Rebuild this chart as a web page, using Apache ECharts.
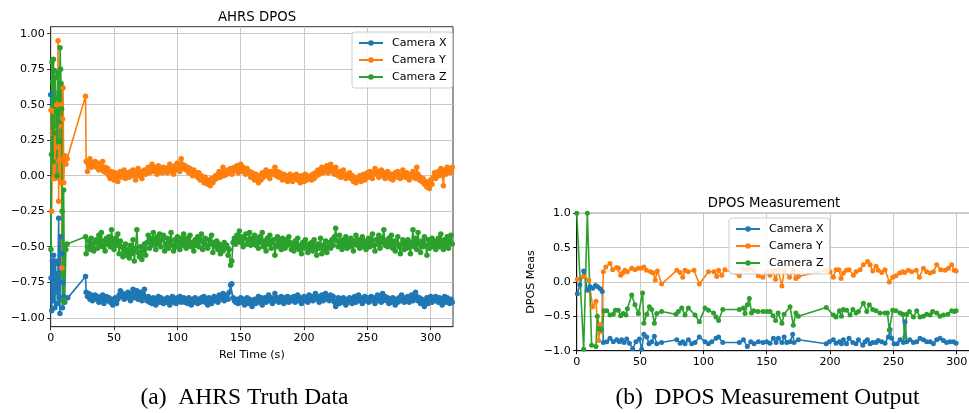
<!DOCTYPE html>
<html>
<head>
<meta charset="utf-8">
<title>AHRS DPOS</title>
<script src="https://cdn.jsdelivr.net/npm/echarts@6.0.0/dist/echarts.min.js"></script>
<style>
  html, body { margin: 0; padding: 0; background: #fff; }
  #chart { width: 969px; height: 413px; }
</style>
</head>
<body>
<div id="chart"></div>
<script>
// legend / colours
var seriesNames = ['Camera X', 'Camera Y', 'Camera Z'];
var seriesColors = ['#1f77b4', '#ff7f0e', '#2ca02c'];

// (a) AHRS truth data, start-up part: [time s, value]
var ahrsEarlyX = [[0, 0.57], [0.3, -0.72], [0.8, -0.95], [1.3, -0.6], [1.8, -0.88], [2.3, -0.56], [2.8, -0.78],
    [3.3, -0.93], [3.8, -0.6], [4.3, -0.82], [4.8, -0.69], [5.3, -0.9], [5.8, -0.62], [6.3, -0.3], [6.8, -0.86],
    [7.3, -0.97], [7.8, -0.43], [8.3, -0.65], [8.8, -0.55], [9.3, -0.93], [9.8, -0.75], [10.3, -0.85],
    [11, -0.89], [13.5, -0.86], [27.5, -0.71]];
var ahrsEarlyY = [[0.3, 0.46], [0.8, -0.25], [1.3, 0.3], [1.8, 0.1], [2.3, -0.02], [2.8, 0.45], [3.3, 0.1],
    [3.8, -0.02], [4.3, 0.35], [4.8, 0.5], [5.3, 0.2], [5.8, 0.95], [6.3, -0.18], [6.8, 0.35], [7.3, 0.12],
    [7.8, -0.05], [8.3, 0.5], [8.8, -0.65], [9.3, 0.4], [9.8, 0.62], [10.3, -0.05], [10.8, 0.1], [11.3, 0.14],
    [12, 0.08], [13, 0.12], [27.5, 0.56]];
var ahrsEarlyZ = [[0.2, -0.52], [0.6, 0.15], [1, 0.8], [1.4, 0.66], [1.8, 0.1], [2.2, 0.82], [2.6, 0.3], [3, 0.74],
    [3.4, 0.55], [3.8, 0.69], [4.2, 0.35], [4.6, 0.45], [5, 0.0], [5.4, 0.55], [5.8, 0.72], [6.2, 0.38],
    [6.6, 0.59], [7, 0.24], [7.4, 0.9], [7.8, 0.75], [8.2, 0.65], [8.6, 0.47], [9, -0.25], [9.4, -0.7],
    [9.8, -0.88], [10.2, -0.1], [10.6, -0.5], [11, -0.88], [12, -0.52], [13, -0.48], [27.5, -0.43]];

// steady part: one sample per second, first sample at ahrsStart
var ahrsStart = 28;
var ahrsX = [
    -0.82, -0.85, -0.83, -0.87, -0.84, -0.88, -0.86, -0.84,
    -0.87, -0.85, -0.89, -0.86, -0.88, -0.84, -0.90, -0.87, -0.85, -0.88,
    -0.86, -0.89, -0.87, -0.91, -0.88, -0.86, -0.90, -0.87, -0.84, -0.81, -0.85, -0.83, -0.87, -0.84, -0.86,
    -0.82, -0.85, -0.88, -0.83, -0.80, -0.86, -0.84, -0.81, -0.87, -0.85, -0.82, -0.88, -0.84, -0.80, -0.86,
    -0.88, -0.85, -0.89, -0.87, -0.90, -0.86, -0.88, -0.91, -0.87, -0.85, -0.89, -0.86, -0.88, -0.90, -0.87,
    -0.89, -0.86, -0.88, -0.91, -0.87, -0.85, -0.89, -0.87, -0.90, -0.86, -0.88, -0.85, -0.89, -0.87, -0.86,
    -0.89, -0.87, -0.90, -0.86, -0.88, -0.91, -0.87, -0.89, -0.86, -0.88,
    -0.90, -0.87, -0.89, -0.86, -0.88, -0.85, -0.89, -0.87, -0.91, -0.86, -0.88, -0.90, -0.87, -0.85, -0.88,
    -0.86, -0.89, -0.84, -0.87, -0.85, -0.83, -0.88, -0.86, -0.84, -0.87, -0.82, -0.77, -0.76, -0.86, -0.88,
    -0.89, -0.87, -0.90, -0.88, -0.86, -0.89, -0.87, -0.91, -0.88, -0.86, -0.90, -0.87, -0.89, -0.92, -0.88,
    -0.87, -0.90, -0.88, -0.85, -0.89, -0.86, -0.91, -0.88, -0.86, -0.89, -0.87, -0.84, -0.88, -0.86, -0.90,
    -0.87, -0.83, -0.88, -0.86, -0.89, -0.87, -0.85, -0.88, -0.90, -0.86, -0.88, -0.85, -0.89, -0.87, -0.86,
    -0.88, -0.85, -0.89, -0.87, -0.84, -0.88, -0.86, -0.90, -0.87, -0.85, -0.88, -0.86, -0.89, -0.84, -0.87,
    -0.85, -0.88, -0.86, -0.83, -0.87, -0.85, -0.89, -0.86, -0.84, -0.88, -0.86, -0.83, -0.87, -0.85, -0.88,
    -0.84, -0.87, -0.85, -0.89, -0.92, -0.88, -0.86, -0.90, -0.87, -0.89, -0.86, -0.88, -0.91, -0.87, -0.89,
    -0.86, -0.88, -0.90, -0.87, -0.85, -0.89, -0.87, -0.84, -0.88, -0.86, -0.90, -0.87, -0.85, -0.88, -0.86,
    -0.89, -0.87, -0.85, -0.88, -0.86, -0.90, -0.87, -0.84, -0.88, -0.86, -0.89, -0.83, -0.87, -0.85, -0.88,
    -0.86, -0.90, -0.87, -0.89, -0.86, -0.88, -0.91, -0.87, -0.89, -0.86, -0.88, -0.84, -0.87, -0.89, -0.86,
    -0.88, -0.85, -0.89, -0.87, -0.84, -0.88, -0.86, -0.82, -0.85, -0.88, -0.86, -0.90, -0.87, -0.89, -0.92,
    -0.88, -0.86, -0.90, -0.87, -0.85, -0.89, -0.86, -0.88, -0.85, -0.87,
    -0.89, -0.86, -0.88, -0.91, -0.87, -0.85, -0.89, -0.86, -0.88, -0.90, -0.87, -0.89
];
var ahrsY = [
    0.10, 0.03, 0.08, 0.12, 0.06, 0.09, 0.07, 0.10,
    0.06, 0.09, 0.04, 0.07, 0.05, 0.10, 0.03, 0.06, 0.02, 0.05,
    0.00, -0.02, 0.03, 0.01, -0.03, 0.02, 0.00, -0.04, 0.01, 0.03, -0.01, 0.00, 0.04, -0.02, 0.01,
    0.02, -0.01, 0.03, 0.00, 0.04, 0.01, -0.03, 0.02, 0.05, 0.00, 0.03, -0.02, 0.02, 0.04, 0.01,
    0.03, 0.06, 0.02, 0.05, 0.08, 0.03, 0.06, 0.04, 0.01, 0.07, 0.03, 0.05, 0.02, 0.06, 0.04,
    0.05, 0.02, 0.06, 0.08, 0.03, 0.05, 0.01, 0.07, 0.04, 0.09, 0.06, 0.03, 0.12, 0.08, 0.05,
    0.07, 0.04, 0.06, 0.02, 0.05, 0.03, 0.00, 0.04, 0.01, 0.02,
    -0.01, 0.02, -0.03, 0.00, -0.02, -0.05, -0.01, -0.04, -0.06, -0.03, -0.07, -0.02, -0.05, -0.03, 0.00,
    -0.02, 0.01, 0.03, -0.01, 0.02, 0.06, 0.00, 0.03, 0.01, 0.04, 0.02, 0.05, 0.01, 0.03, 0.06,
    0.04, 0.07, 0.02, 0.05, 0.08, 0.03, 0.06, 0.04, 0.01, 0.05, 0.02, 0.03, -0.01, 0.02, 0.00,
    -0.03, 0.01, -0.02, -0.05, 0.00, -0.03, 0.02, -0.01, 0.01, 0.04, 0.00, 0.02, -0.02, 0.03, 0.01,
    0.02, 0.06, 0.00, 0.03, -0.01, 0.02, 0.00, -0.03, 0.01, -0.02, 0.00, -0.04, -0.01, 0.01, -0.02,
    -0.04, 0.00, -0.02, 0.01, -0.03, -0.01, -0.05, 0.00, -0.02, -0.04, 0.01, -0.03, -0.01, -0.02, 0.00,
    -0.03, 0.01, -0.02, 0.02, 0.00, 0.04, 0.01, 0.03, 0.06, 0.02, 0.05, 0.03, 0.07, 0.02, 0.04,
    0.08, 0.03, 0.05, 0.01, 0.06, 0.02, 0.00, 0.03, -0.01, 0.02, 0.04, 0.00, -0.02, 0.01, -0.01,
    0.02, -0.02, 0.00, -0.04, -0.01, -0.05, -0.02, -0.03, 0.00, -0.04, -0.02, 0.01, -0.03, -0.01, 0.02,
    -0.01, 0.03, 0.00, -0.02, 0.02, 0.05, 0.01, 0.03, -0.01, 0.02, 0.04, 0.00, 0.02, -0.02, 0.01,
    0.03, 0.00, -0.02, 0.01, -0.03, 0.00, 0.02, -0.01, 0.03, 0.01, -0.02, 0.00, 0.04, 0.01, -0.01,
    0.02, 0.00, -0.03, 0.01, -0.01, 0.03, 0.00, -0.02, 0.06, 0.01, -0.03, -0.01, -0.04, -0.02, -0.06,
    -0.04, -0.08, -0.05, -0.09, -0.03, -0.06, -0.01, 0.02, -0.02, 0.01,
    0.03, 0.00, 0.05, 0.02, -0.07, 0.04, 0.01, 0.06, 0.03, 0.05, 0.02, 0.06
];
var ahrsZ = [
    -0.55, -0.50, -0.46, -0.52, -0.44, -0.49, -0.53, -0.47,
    -0.45, -0.51, -0.42, -0.48, -0.40, -0.50, -0.46, -0.53, -0.44, -0.48,
    -0.43, -0.50, -0.38, -0.47, -0.52, -0.44, -0.49, -0.41, -0.55, -0.46, -0.50, -0.57, -0.53, -0.48, -0.56,
    -0.52, -0.58, -0.49, -0.55, -0.45, -0.60, -0.51, -0.38, -0.54, -0.57, -0.50, -0.59, -0.53, -0.48, -0.56,
    -0.47, -0.42, -0.51, -0.44, -0.49, -0.40, -0.46, -0.52, -0.43, -0.48, -0.41, -0.50, -0.45, -0.42, -0.53,
    -0.48, -0.44, -0.51, -0.46, -0.40, -0.49, -0.53, -0.45, -0.50, -0.43, -0.47, -0.52, -0.44, -0.49, -0.41,
    -0.46, -0.51, -0.44, -0.48, -0.42, -0.50, -0.47, -0.53, -0.45, -0.49,
    -0.43, -0.50, -0.46, -0.41, -0.52, -0.47, -0.44, -0.49, -0.51, -0.45, -0.48, -0.42, -0.54, -0.47, -0.50,
    -0.46, -0.52, -0.48, -0.55, -0.50, -0.53, -0.47, -0.51, -0.49, -0.56, -0.52, -0.63, -0.60, -0.47, -0.44,
    -0.48, -0.42, -0.46, -0.39, -0.47, -0.43, -0.50, -0.44, -0.41, -0.48, -0.45, -0.40, -0.49, -0.44, -0.47,
    -0.42, -0.49, -0.45, -0.51, -0.43, -0.47, -0.40, -0.50, -0.46, -0.53, -0.44, -0.48, -0.42, -0.51, -0.47,
    -0.45, -0.56, -0.49, -0.43, -0.50, -0.46, -0.52, -0.44, -0.48, -0.51, -0.45, -0.49, -0.43, -0.47, -0.52,
    -0.48, -0.53, -0.46, -0.50, -0.44, -0.52, -0.49, -0.55, -0.47, -0.51, -0.45, -0.50, -0.54, -0.48, -0.52,
    -0.47, -0.53, -0.45, -0.50, -0.56, -0.48, -0.51, -0.44, -0.55, -0.49, -0.52, -0.46, -0.54, -0.50, -0.47,
    -0.51, -0.45, -0.49, -0.43, -0.37, -0.46, -0.50, -0.42, -0.48, -0.52, -0.45, -0.49, -0.43, -0.51, -0.46,
    -0.50, -0.44, -0.48, -0.53, -0.46, -0.42, -0.49, -0.45, -0.51, -0.47, -0.43, -0.50, -0.46, -0.52, -0.48,
    -0.44, -0.50, -0.46, -0.41, -0.49, -0.53, -0.45, -0.48, -0.42, -0.51, -0.47, -0.44, -0.38, -0.49, -0.46,
    -0.50, -0.44, -0.48, -0.42, -0.51, -0.46, -0.53, -0.47, -0.43, -0.50, -0.55, -0.48, -0.45, -0.52, -0.47,
    -0.51, -0.45, -0.49, -0.55, -0.47, -0.38, -0.50, -0.44, -0.52, -0.40, -0.48, -0.54, -0.46, -0.50, -0.43,
    -0.49, -0.56, -0.45, -0.51, -0.47, -0.44, -0.50, -0.46, -0.52, -0.48,
    -0.44, -0.50, -0.41, -0.47, -0.52, -0.45, -0.49, -0.43, -0.51, -0.46, -0.42, -0.48
];

// (b) DPOS measurement: [time s, value]
var measX = [[0.5, -0.17], [2.5, -0.04], [5.5, 0.16], [8.4, -0.12], [10.5, -0.07], [12.6, -0.09], [14.8, -0.05],
    [16.5, -0.07], [18.6, -0.10], [20.2, -0.14], [21, -0.88], [23.7, -0.87], [26.3, -0.82], [28.9, -0.87],
    [31.6, -0.84], [33.7, -0.87], [35.5, -0.84], [37.4, -0.88], [39.5, -0.83], [41.6, -0.89], [44.2, -0.97],
    [46.8, -0.87], [49.5, -0.83], [51.3, -0.98], [53, -0.76], [55.3, -0.80], [57.1, -0.90], [59.2, -0.87],
    [61.3, -0.79], [63.2, -0.90], [67, -0.88], [79, -0.84], [81.6, -0.89], [83.7, -0.87], [85.5, -0.90],
    [88.2, -0.84], [90.8, -0.90], [93.4, -0.88], [96.8, -0.80], [101.3, -0.87], [104, -0.90], [106.6, -0.87],
    [110, -0.82], [112, -0.80], [115.3, -0.88], [128.4, -0.88], [131.6, -0.84], [134.7, -0.94], [137.4, -0.87],
    [140, -0.90], [143.4, -0.87], [147, -0.88], [150, -0.87], [152.6, -0.89], [155.3, -0.82], [157.4, -0.88],
    [159.2, -0.82], [162, -0.88], [163.7, -0.80], [165.8, -0.88], [168.4, -0.87], [170.5, -0.76], [171.6, -0.88],
    [175, -0.84], [197, -0.90], [199.5, -0.87], [202.6, -0.84], [204.7, -0.89], [207.4, -0.87], [209, -0.90],
    [210.5, -0.84], [213, -0.90], [215, -0.82], [217.9, -0.88], [220.5, -0.90], [222.4, -0.84], [225.8, -0.92],
    [227.6, -0.87], [229.5, -0.84], [231.6, -0.90], [233.7, -0.88], [236.3, -0.88], [238, -0.85], [240.8, -0.87],
    [243.4, -0.89], [246, -0.80], [247.4, -0.69], [248.7, -0.82], [250.5, -0.90], [253, -0.90], [255.3, -0.84],
    [257.9, -0.88], [259.2, -0.58], [260.5, -0.87], [263, -0.84], [265.8, -0.88], [268.4, -0.87], [271, -0.82],
    [273.7, -0.84], [276.3, -0.87], [279, -0.87], [281.6, -0.90], [284.2, -0.84], [286.8, -0.82], [289.5, -0.85],
    [292, -0.88], [294.7, -0.87], [297.4, -0.87], [299.5, -0.89]];
var measY = [[0.5, 0.04], [5.5, 0.08], [9.5, 0.03], [12.6, -0.36], [15.2, -0.28], [17.3, -0.85], [18.6, -0.62],
    [19.7, -0.72], [21, 0.15], [23, 0.22], [26.3, 0.27], [28.4, 0.18], [31.6, 0.21], [33, 0.20], [34.7, 0.10],
    [36.3, 0.13], [38, 0.17], [40, 0.15], [43.4, 0.20], [46, 0.18], [48.7, 0.20], [51, 0.20], [53, 0.22],
    [55, 0.17], [58.4, 0.15], [60.5, 0.13], [62, 0.03], [63.7, 0.16], [67, -0.03], [79, 0.17], [81.6, 0.14],
    [83.7, 0.07], [85.5, 0.17], [88, 0.15], [92.6, 0.17], [96.8, -0.03], [104, 0.15], [108.4, 0.15], [110.5, 0.08],
    [112, 0.17], [114.5, 0.10], [117, 0.18], [128.4, 0.09], [131.6, 0.19], [134.7, 0.18], [137.4, 0.20],
    [140, 0.17], [143.4, 0.09], [147, 0.07], [150, 0.15], [152.6, 0.10], [155, 0.17], [157, 0.04], [159, 0.17],
    [162, -0.06], [163.7, 0.17], [168, 0.07], [171, 0.17], [173, 0.05], [175, 0.08], [197, 0.17], [200, 0.15],
    [202.6, 0.07], [204.7, 0.18], [207, 0.18], [208.7, 0.05], [210.5, 0.13], [213, 0.17], [215, 0.18],
    [218.4, 0.10], [220.5, 0.15], [223.7, 0.18], [226.3, 0.25], [229.7, 0.30], [231.6, 0.25], [233.7, 0.16],
    [236.3, 0.23], [238, 0.17], [240.8, 0.14], [243.4, 0.18], [246.8, 0.00], [249.5, 0.07], [252, 0.09],
    [255, 0.13], [257.4, 0.15], [259, 0.14], [261.8, 0.17], [264.5, 0.15], [268, 0.17], [270.5, 0.07],
    [273.7, 0.20], [276.3, 0.15], [279, 0.13], [281.6, 0.15], [284.2, 0.25], [287.4, 0.18], [290.8, 0.17],
    [293.5, 0.20], [296, 0.25], [298, 0.17], [299.5, 0.16]];
var measZ = [[0, 1.0], [5.5, -0.98], [8.4, 1.0], [11.8, -0.92], [15.2, -0.94], [16.3, -0.50], [17.9, -0.68],
    [19.7, -0.70], [21.6, -0.42], [23.7, -0.42], [26.3, -0.48], [28.9, -0.47], [30.5, -0.41], [32.9, -0.41],
    [34.7, -0.49], [36.8, -0.46], [38.9, -0.48], [40, -0.39], [43.4, -0.19], [46, -0.33], [48.7, -0.46],
    [52, -0.16], [53, -0.60], [55.3, -0.47], [57.4, -0.36], [59.2, -0.40], [61.3, -0.60], [63.2, -0.46],
    [67, -0.43], [78.4, -0.47], [80.3, -0.43], [82.9, -0.38], [85.5, -0.48], [88.2, -0.38], [93.4, -0.48],
    [96.8, -0.58], [101.3, -0.38], [104, -0.41], [108, -0.45], [110, -0.51], [112, -0.56], [115.3, -0.40],
    [128.4, -0.40], [131.6, -0.38], [132.9, -0.46], [134.7, -0.33], [136.3, -0.24], [138, -0.45], [139.7, -0.42],
    [143, -0.43], [147, -0.43], [150, -0.43], [152.6, -0.43], [155, -0.49], [157, -0.56], [159, -0.45],
    [162, -0.60], [163.7, -0.47], [168.4, -0.36], [171, -0.63], [173, -0.45], [175, -0.50], [197, -0.37],
    [202.6, -0.48], [204.7, -0.51], [207.4, -0.42], [209, -0.50], [210.5, -0.40], [213, -0.41], [215.8, -0.48],
    [218, -0.40], [220.5, -0.45], [222.4, -0.43], [226.3, -0.31], [229, -0.43], [231, -0.33], [233.7, -0.40],
    [236.3, -0.42], [239.5, -0.45], [243.4, -0.45], [245.3, -0.45], [246.8, -0.70], [249.5, -0.41], [252, -0.42],
    [255.3, -0.45], [257.4, -0.47], [259, -0.80], [260.5, -0.47], [262.6, -0.43], [265.8, -0.51], [268.4, -0.42],
    [271, -0.51], [273.7, -0.50], [276.3, -0.47], [279, -0.48], [281, -0.43], [284.2, -0.45], [286.8, -0.50],
    [289.5, -0.48], [293, -0.47], [296, -0.42], [298, -0.43], [299.5, -0.42]];

// tick labels
var ahrsTimeTicks = [0, 50, 100, 150, 200, 250, 300];
var ahrsValueTicks = [-1, -0.75, -0.5, -0.25, 0, 0.25, 0.5, 0.75, 1];
var measTimeTicks = [0, 50, 100, 150, 200, 250, 300];
var measValueTicks = [-1, -0.5, 0, 0.5, 1];


var font = 'DejaVu Sans';
var gridColor = '#c8c8c8';

//start-up points followed by the one-per-second steady part
function joinSteady(early, values) {
    var out = early.slice();
    values.forEach(function (v, i) {
        out.push([ahrsStart + i, v]);
    });
    return out;
}

//matplotlib style minus sign
function tickText(digits) {
    return function (v) {
        return v.toFixed(digits).replace('-', '\u2212');
    };
}

function makeAxis(gridIndex, min, max, ticks, digits, frame, extra) {
    var axis = {
        type: 'value',
        gridIndex: gridIndex,
        min: min,
        max: max,
        axisLine: { show: true, onZero: false, lineStyle: { color: frame, width: 1 } },
        axisTick: { show: true, inside: false, length: 3.5, customValues: ticks, lineStyle: { color: frame, width: 1 } },
        axisLabel: {
            customValues: ticks,
            margin: 6,
            color: '#000',
            fontSize: 11.1,
            fontFamily: font,
            formatter: tickText(digits)
        },
        splitLine: { show: true, lineStyle: { color: gridColor, width: 1 } }
    };
    for (var k in extra) {
        axis[k] = extra[k];
    }
    return axis;
}

function lineSeries(index, axisIndex, data, dot) {
    return {
        type: 'line',
        name: seriesNames[index],
        xAxisIndex: axisIndex,
        yAxisIndex: axisIndex,
        data: data,
        symbol: 'circle',
        symbolSize: dot,
        showSymbol: true,
        itemStyle: { color: seriesColors[index] },
        lineStyle: { color: seriesColors[index], width: 1.6 },
        emphasis: { disabled: true },
        animation: false
    };
}

function legendBox(left, top) {
    return {
        data: seriesNames,
        orient: 'vertical',
        left: left,
        top: top,
        padding: [5, 6, 5, 6],
        itemWidth: 24,
        itemHeight: 7,
        itemGap: 5,
        backgroundColor: 'rgba(255,255,255,0.85)',
        borderColor: '#cccccc',
        borderWidth: 1,
        borderRadius: 3,
        selectedMode: false,
        textStyle: { color: '#000', fontSize: 11.1, fontFamily: font, lineHeight: 12, padding: [0, 0, 0, 4] }
    };
}

var chart = echarts.init(document.getElementById('chart'), null, { renderer: 'canvas' });

var option = {
    backgroundColor: '#ffffff',
    animation: false,
    title: [
        { text: 'AHRS DPOS', left: 252, top: 6, textAlign: 'center',
          textStyle: { fontSize: 13.3, fontWeight: 'normal', color: '#000', fontFamily: font } },
        { text: 'DPOS Measurement', left: 769, top: 192, textAlign: 'center',
          textStyle: { fontSize: 13.3, fontWeight: 'normal', color: '#000', fontFamily: font } }
    ],
    legend: [legendBox(352, 32), legendBox(729, 218)],
    grid: [
        { left: 50.7, top: 26.7, width: 402.3, height: 300, show: true, borderColor: '#333', borderWidth: 1,
          containLabel: false, outerBoundsMode: 'none' },
        { left: 576.7, top: 213.3, width: 396.5, height: 137.4, show: true, borderColor: '#111', borderWidth: 1,
          containLabel: false, outerBoundsMode: 'none' }
    ],
    xAxis: [
        makeAxis(0, 0, 317.6, ahrsTimeTicks, 0, '#333', {
            name: 'Rel Time (s)', nameLocation: 'middle', nameGap: 23,
            nameTextStyle: { color: '#000', fontSize: 11.1, fontFamily: font }
        }),
        makeAxis(1, 0, 313, measTimeTicks, 0, '#111', {})
    ],
    yAxis: [
        makeAxis(0, -1.063, 1.049, ahrsValueTicks, 2, '#333', {}),
        makeAxis(1, -1, 1, measValueTicks, 1, '#111', {
            name: 'DPOS Meas', nameLocation: 'middle', nameGap: 40,
            nameTextStyle: { color: '#000', fontSize: 11.1, fontFamily: font }
        })
    ],
    series: [
        lineSeries(0, 0, joinSteady(ahrsEarlyX, ahrsX), 5.5),
        lineSeries(1, 0, joinSteady(ahrsEarlyY, ahrsY), 5.5),
        lineSeries(2, 0, joinSteady(ahrsEarlyZ, ahrsZ), 5.5),
        lineSeries(0, 1, measX, 5),
        lineSeries(1, 1, measY, 5),
        lineSeries(2, 1, measZ, 5)
    ],
    graphic: [
        { type: 'text', x: 244.5, y: 398, style: { text: '(a)  AHRS Truth Data', font: '23.5px "Liberation Serif"',
          fill: '#000', textAlign: 'center', textVerticalAlign: 'middle' } },
        { type: 'text', x: 767.5, y: 398, style: { text: '(b)  DPOS Measurement Output', font: '23.5px "Liberation Serif"',
          fill: '#000', textAlign: 'center', textVerticalAlign: 'middle' } }
    ]
};

chart.setOption(option);
</script>
</body>
</html>
